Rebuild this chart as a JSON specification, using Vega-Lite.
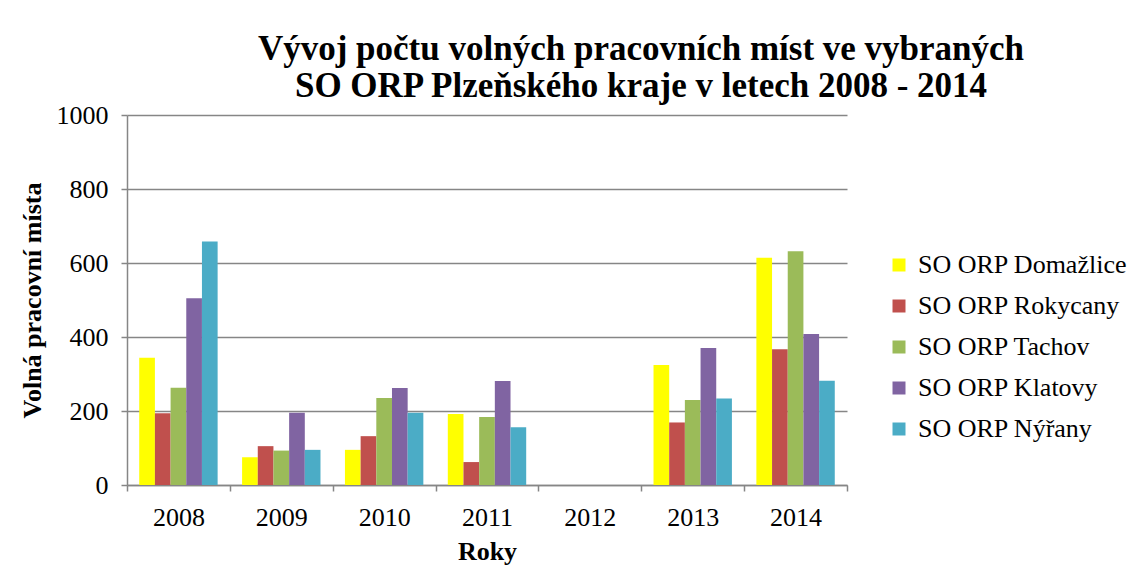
{
  "$schema": "https://vega.github.io/schema/vega-lite/v6.json",
  "autosize": {"type": "none"},
  "width": 720,
  "height": 370,
  "padding": {"left": 127, "top": 115, "right": 284, "bottom": 80},
  "background": "white",
  "title": {
    "text": ["Vývoj počtu volných pracovních míst ve vybraných", "SO ORP Plzeňského kraje v letech 2008 - 2014"],
    "font": "Liberation Serif",
    "fontSize": 35,
    "fontWeight": "bold",
    "color": "black",
    "anchor": "middle",
    "dx": 154,
    "lineHeight": 37,
    "offset": -2
  },
  "data": {
    "values": [
      {"rok": "2008", "orp": "SO ORP Domažlice", "hodnota": 344},
      {"rok": "2008", "orp": "SO ORP Rokycany", "hodnota": 194},
      {"rok": "2008", "orp": "SO ORP Tachov", "hodnota": 263},
      {"rok": "2008", "orp": "SO ORP Klatovy", "hodnota": 505},
      {"rok": "2008", "orp": "SO ORP Nýřany", "hodnota": 658},
      {"rok": "2009", "orp": "SO ORP Domažlice", "hodnota": 75},
      {"rok": "2009", "orp": "SO ORP Rokycany", "hodnota": 105},
      {"rok": "2009", "orp": "SO ORP Tachov", "hodnota": 93},
      {"rok": "2009", "orp": "SO ORP Klatovy", "hodnota": 195},
      {"rok": "2009", "orp": "SO ORP Nýřany", "hodnota": 95},
      {"rok": "2010", "orp": "SO ORP Domažlice", "hodnota": 95},
      {"rok": "2010", "orp": "SO ORP Rokycany", "hodnota": 132},
      {"rok": "2010", "orp": "SO ORP Tachov", "hodnota": 235},
      {"rok": "2010", "orp": "SO ORP Klatovy", "hodnota": 262},
      {"rok": "2010", "orp": "SO ORP Nýřany", "hodnota": 195},
      {"rok": "2011", "orp": "SO ORP Domažlice", "hodnota": 192},
      {"rok": "2011", "orp": "SO ORP Rokycany", "hodnota": 62},
      {"rok": "2011", "orp": "SO ORP Tachov", "hodnota": 184},
      {"rok": "2011", "orp": "SO ORP Klatovy", "hodnota": 281},
      {"rok": "2011", "orp": "SO ORP Nýřany", "hodnota": 156},
      {"rok": "2013", "orp": "SO ORP Domažlice", "hodnota": 324},
      {"rok": "2013", "orp": "SO ORP Rokycany", "hodnota": 169},
      {"rok": "2013", "orp": "SO ORP Tachov", "hodnota": 230},
      {"rok": "2013", "orp": "SO ORP Klatovy", "hodnota": 370},
      {"rok": "2013", "orp": "SO ORP Nýřany", "hodnota": 234},
      {"rok": "2014", "orp": "SO ORP Domažlice", "hodnota": 614},
      {"rok": "2014", "orp": "SO ORP Rokycany", "hodnota": 367},
      {"rok": "2014", "orp": "SO ORP Tachov", "hodnota": 632},
      {"rok": "2014", "orp": "SO ORP Klatovy", "hodnota": 408},
      {"rok": "2014", "orp": "SO ORP Nýřany", "hodnota": 282}
    ]
  },
  "mark": {"type": "bar"},
  "encoding": {
    "x": {
      "field": "rok",
      "type": "nominal",
      "scale": {"domain": ["2008", "2009", "2010", "2011", "2012", "2013", "2014"], "paddingInner": 0, "paddingOuter": 0},
      "axis": {
        "title": "Roky",
        "labelAngle": 0,
        "tickBand": "extent",
        "labelPadding": 13,
        "titlePadding": 8
      }
    },
    "xOffset": {
      "field": "orp",
      "type": "nominal",
      "scale": {"domain": ["SO ORP Domažlice", "SO ORP Rokycany", "SO ORP Tachov", "SO ORP Klatovy", "SO ORP Nýřany"], "paddingInner": 0, "paddingOuter": 0.78}
    },
    "y": {
      "field": "hodnota",
      "type": "quantitative",
      "scale": {"domain": [0, 1000], "nice": false},
      "axis": {
        "title": "Volná pracovní místa",
        "values": [0, 200, 400, 600, 800, 1000],
        "format": "d",
        "labelPadding": 13,
        "titlePadding": 11
      }
    },
    "color": {
      "field": "orp",
      "type": "nominal",
      "scale": {
        "domain": ["SO ORP Domažlice", "SO ORP Rokycany", "SO ORP Tachov", "SO ORP Klatovy", "SO ORP Nýřany"],
        "range": ["#FFFF00", "#C0504D", "#9BBB59", "#8064A2", "#4BACC6"]
      },
      "legend": {
        "title": null,
        "orient": "none",
        "legendX": 759,
        "legendY": 137,
        "symbolType": "square",
        "symbolSize": 169,
        "symbolStrokeWidth": 0,
        "labelFont": "Times New Roman, Liberation Serif, serif",
        "labelFontSize": 26,
        "labelColor": "black",
        "rowPadding": 15,
        "labelOffset": 6,
        "labelLimit": 300
      }
    }
  },
  "config": {
    "view": {"stroke": null},
    "font": "Liberation Serif",
    "axis": {
      "labelFont": "Times New Roman, Liberation Serif, serif",
      "labelFontSize": 26,
      "labelColor": "black",
      "titleFont": "Liberation Serif",
      "titleFontSize": 26,
      "titleFontWeight": "bold",
      "titleColor": "black",
      "domainColor": "#868686",
      "domainWidth": 1.5,
      "tickColor": "#868686",
      "tickWidth": 1.5,
      "tickSize": 6,
      "gridColor": "#868686",
      "gridWidth": 1.5
    },
    "axisX": {"grid": false},
    "axisY": {"grid": true}
  }
}
